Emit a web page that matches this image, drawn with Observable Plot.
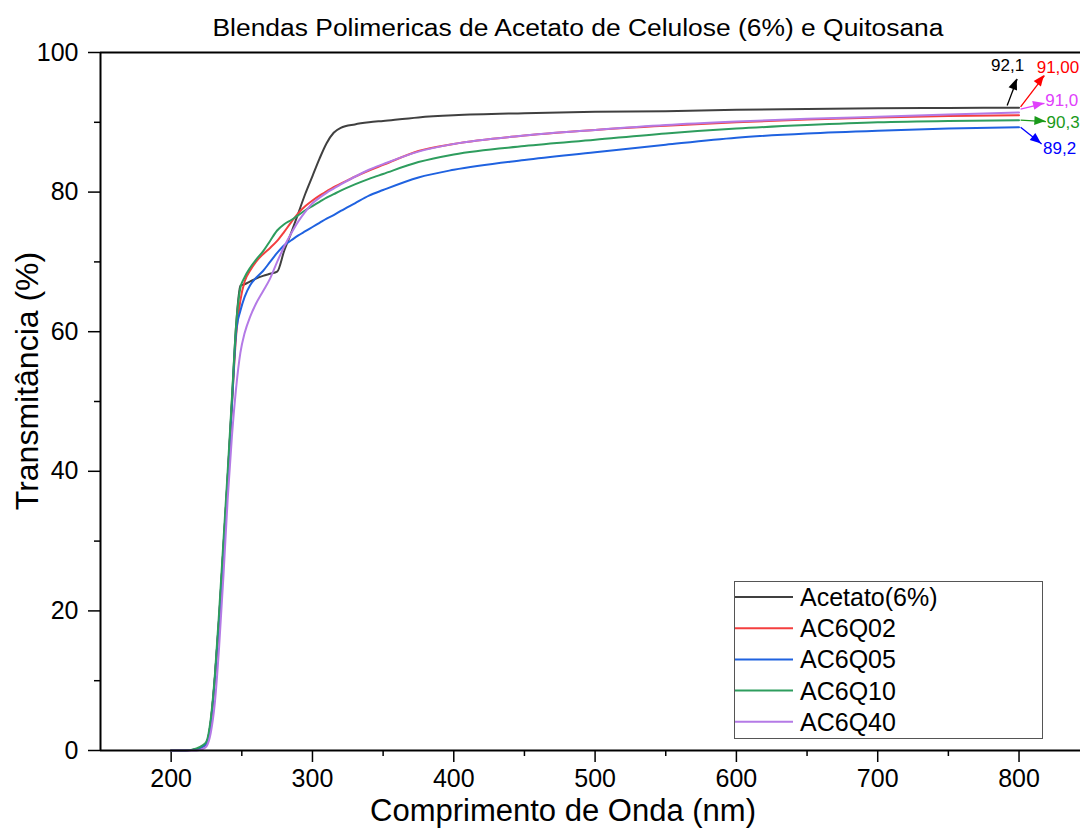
<!DOCTYPE html>
<html>
<head>
<meta charset="utf-8">
<script src="https://cdn.jsdelivr.net/npm/d3@7"></script>
<script src="https://cdn.jsdelivr.net/npm/@observablehq/plot@0.6"></script>
<style>
  html, body { margin: 0; padding: 0; background: white; }
  #chart { position: relative; width: 1080px; height: 828px; overflow: hidden; }
</style>
</head>
<body>
<div id="chart"></div>
<script>
// ---- Data ----
const wavelength = [200, 210, 218, 222, 225, 228, 231, 234, 237, 240, 243, 246, 249, 252, 256, 260, 265, 270, 275, 280, 285, 290, 295, 300, 305, 310, 315, 320, 330, 340, 350, 375, 400, 450, 500, 550, 600, 650, 700, 750, 800];

const acetato = [0, 0, 0.2, 0.5, 1, 4, 10.5, 19, 29, 39, 50, 61, 66.6, 66.8, 67.2, 67.6, 68, 68.3, 68.6, 71.6, 74.2, 77, 79.8, 82.3, 84.8, 87, 88.5, 89.2, 89.7, 90.0, 90.2, 90.7, 91.0, 91.3, 91.5, 91.6, 91.8, 91.9, 92.0, 92.05, 92.1];
const ac6q02 = [0, 0, 0.2, 0.5, 1, 4, 10.5, 19, 29, 39, 49.5, 59.5, 64.5, 67.2, 68.8, 70, 71.1, 72, 73, 74.3, 75.7, 77, 78, 78.8, 79.5, 80.1, 80.7, 81.2, 82.2, 83.1, 83.9, 85.9, 86.9, 88.1, 88.9, 89.5, 90.0, 90.4, 90.7, 90.9, 91.0];
const ac6q05 = [0, 0, 0.2, 0.5, 1, 4, 10.5, 19, 29, 39, 49.5, 60, 63, 65, 66.7, 67.7, 68.7, 70, 71.3, 72.4, 73.1, 73.8, 74.4, 75.0, 75.6, 76.2, 76.7, 77.3, 78.4, 79.5, 80.3, 82.1, 83.2, 84.6, 85.7, 86.8, 87.8, 88.4, 88.8, 89.1, 89.3];
const ac6q10 = [0, 0, 0.3, 0.7, 1.3, 4.5, 11, 20, 30, 40, 50.5, 61, 66.3, 67.8, 69.2, 70.3, 71.5, 73, 74.5, 75.4, 76.0, 76.7, 77.4, 78.0, 78.6, 79.2, 79.7, 80.2, 81.1, 81.9, 82.6, 84.3, 85.4, 86.6, 87.5, 88.4, 89.1, 89.6, 90.0, 90.2, 90.3];
const ac6q40 = [0, 0, 0, 0.2, 0.6, 2.5, 7, 15, 25, 36, 45, 52, 57, 59.8, 62.2, 64, 65.8, 67.6, 70, 72.2, 74.1, 75.8, 77.2, 78.4, 79.2, 79.9, 80.5, 81.1, 82.2, 83.2, 84.0, 85.8, 86.9, 88.1, 88.9, 89.6, 90.1, 90.5, 90.8, 91.1, 91.4];

const seriesNames = ["Acetato(6%)", "AC6Q02", "AC6Q05", "AC6Q10", "AC6Q40"];
const seriesValues = [acetato, ac6q02, ac6q05, ac6q10, ac6q40];
const seriesColors = ["#404040", "#f43f3f", "#1f62e0", "#2e9d5e", "#b47ae6"];

const xTicks = [200, 300, 400, 500, 600, 700, 800];
const xMinorTicks = [250, 350, 450, 550, 650, 750];
const yTicks = [0, 20, 40, 60, 80, 100];
const yMinorTicks = [10, 30, 50, 70, 90];

// end-value annotations: arrow tail (at curve end), arrow tip, label position
const annoLabels = ["92,1", "91,00", "91,0", "90,3", "89,2"];
const annoColors = ["#000000", "#ff0000", "#e040fb", "#1a9a1a", "#0000ff"];
const annoX1 = [791.6, 801.1, 801.1, 801.1, 801.1];
const annoY1 = [92.4, 92.2, 91.9, 90.3, 89.3];
const annoX2 = [798.7, 818.0, 818.0, 819.0, 816.0];
const annoY2 = [96.2, 96.7, 92.7, 90.1, 86.9];
const annoTx = [791.9, 812.5, 818.5, 819.5, 817.0];
const annoTy = [98.1, 97.9, 93.1, 90.0, 86.2];
const annoAnchor = ["middle", "start", "start", "start", "start"];

// ---- Build tables ----
const rows = [];
seriesNames.forEach((name, i) => {
  wavelength.forEach((w, j) => rows.push({series: name, x: w, y: seriesValues[i][j]}));
});
const anno = annoLabels.map((t, i) => ({
  label: t, color: annoColors[i], x1: annoX1[i], y1: annoY1[i], x2: annoX2[i], y2: annoY2[i],
  tx: annoTx[i], ty: annoTy[i], anchor: annoAnchor[i]
}));

const FONT = "'Liberation Sans', Arial, Helvetica, sans-serif";

const plot = Plot.plot({
  width: 1080,
  height: 828,
  marginLeft: 100,
  marginRight: 0,
  marginTop: 52,
  marginBottom: 78,
  style: {fontFamily: FONT, background: "white", color: "black"},
  x: {domain: [150, 843.5]},
  y: {domain: [0, 100]},
  color: {domain: seriesNames, range: seriesColors},
  marks: [
    Plot.axisX({ticks: xTicks, tickSize: 12, tickPadding: 7, fontSize: 25, label: null, strokeWidth: 1.5}),
    Plot.axisX({ticks: xMinorTicks, tickSize: 6, tickFormat: () => "", label: null, strokeWidth: 1.5}),
    Plot.axisY({ticks: yTicks, tickSize: 12, tickPadding: 10, fontSize: 25, label: null, strokeWidth: 1.5}),
    Plot.axisY({ticks: yMinorTicks, tickSize: 6, tickFormat: () => "", label: null, strokeWidth: 1.5}),
    Plot.line(rows, {x: "x", y: "y", z: "series", stroke: "series", strokeWidth: 2, curve: "monotone-x"}),
    Plot.ruleY([0], {stroke: "black", strokeWidth: 2}),
    Plot.ruleY([100], {stroke: "black", strokeWidth: 2}),
    Plot.ruleX([150], {stroke: "black", strokeWidth: 2}),
    ...anno.map(a => Plot.link([a], {x1: "x1", y1: "y1", x2: "x2", y2: "y2", stroke: a.color, strokeWidth: 1.3})),
    ...anno.map(a => Plot.text([a], {x: "tx", y: "ty", text: "label", fill: a.color, textAnchor: a.anchor, fontSize: 17}))
  ]
});

document.getElementById("chart").appendChild(plot);

const svg = d3.select(plot);
const sx = plot.scale("x"), sy = plot.scale("y");

// filled arrowheads at link tips, positioned through Plot's scales
anno.forEach(a => {
  const x1 = sx.apply(a.x1), y1 = sy.apply(a.y1), x2 = sx.apply(a.x2), y2 = sy.apply(a.y2);
  const ang = Math.atan2(y2 - y1, x2 - x1);
  const L = 11, W = 4.5;
  const bx = x2 - L * Math.cos(ang), by = y2 - L * Math.sin(ang);
  const px = -Math.sin(ang) * W, py = Math.cos(ang) * W;
  svg.append("polygon")
    .attr("points", `${x2},${y2} ${bx + px},${by + py} ${bx - px},${by - py}`)
    .attr("fill", a.color);
});

// ---- Title, axis labels, legend ----
svg.append("text")
  .attr("x", 578).attr("y", 36)
  .attr("text-anchor", "middle")
  .attr("font-family", FONT).attr("font-size", 23).attr("fill", "black")
  .attr("textLength", 731).attr("lengthAdjust", "spacingAndGlyphs")
  .text("Blendas Polimericas de Acetato de Celulose (6%) e Quitosana");

svg.append("text")
  .attr("x", 563).attr("y", 821)
  .attr("text-anchor", "middle")
  .attr("font-family", FONT).attr("font-size", 31).attr("fill", "black")
  .text("Comprimento de Onda (nm)");

svg.append("text")
  .attr("transform", "translate(38,381) rotate(-90)")
  .attr("text-anchor", "middle")
  .attr("font-family", FONT).attr("font-size", 32).attr("fill", "black")
  .text("Transmitância (%)");

const lg = svg.append("g");
lg.append("rect")
  .attr("x", 734.5).attr("y", 581.5).attr("width", 308).attr("height", 157)
  .attr("fill", "white").attr("stroke", "#555").attr("stroke-width", 1);
seriesNames.forEach((name, i) => {
  const cy = 597 + i * 31.2;
  lg.append("line").attr("x1", 735).attr("x2", 793).attr("y1", cy).attr("y2", cy)
    .attr("stroke", seriesColors[i]).attr("stroke-width", 2);
  lg.append("text").attr("x", 800).attr("y", cy).attr("dy", "0.36em")
    .attr("text-anchor", "start")
    .attr("font-family", FONT).attr("font-size", 25).attr("fill", "black")
    .text(name);
});
</script>
</body>
</html>
